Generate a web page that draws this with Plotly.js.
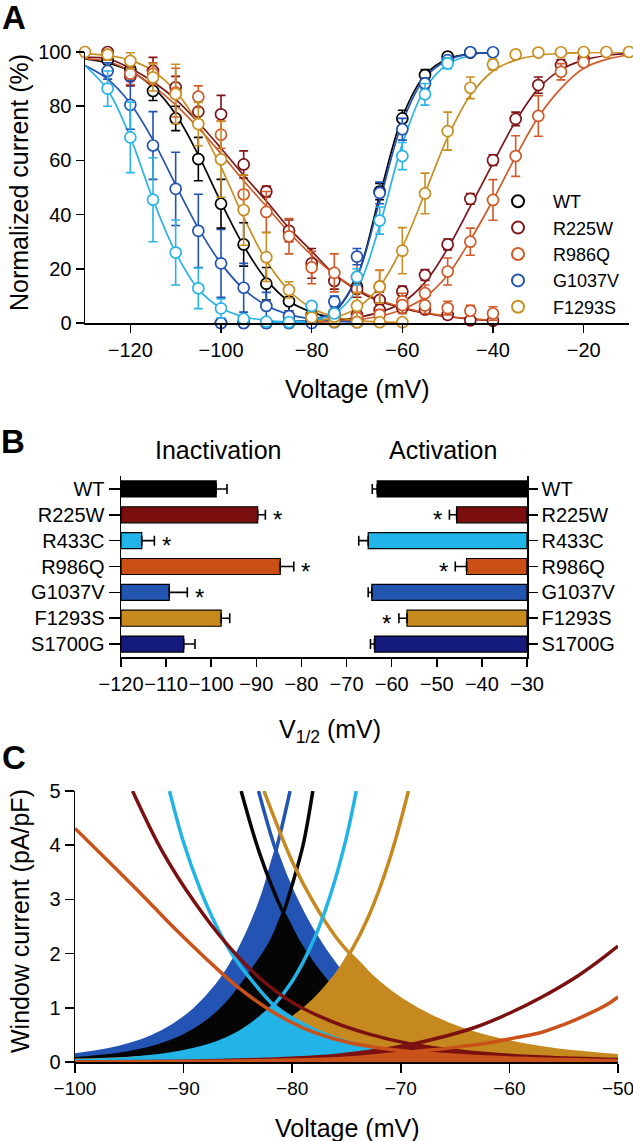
<!DOCTYPE html>
<html><head><meta charset="utf-8">
<script src="https://cdn.plot.ly/plotly-3.0.1.min.js"></script>
<style>html,body{margin:0;padding:0;background:#fff}#chart{width:633px;height:1141px}</style>
</head><body><div id="chart"></div>
<script>
// ================= Panel A data (normalized current, %) =================
const wtInV   = [-125,-120,-115,-110,-105,-100,-95,-90,-85,-80,-75,-70];
const wtInY   = [97,93.5,85.6,75.5,60.5,44,29,14.5,8,3,1.5,1];
const wtInE   = [1.5,2,3.5,4.5,8,9,8,6,3.5,2,1,0.5];
const wtAcV   = [-100,-95,-90,-85,-80,-75,-70,-65,-60,-55,-50,-45];
const wtAcY   = [0,0,0,0,0.5,3.6,13.4,48.5,75.5,91.5,98.3,99.8];
const wtAcE   = [0.3,0.3,0.3,0.3,0.5,1,2,3,3,2,1,0.5];

const r225InV = [-125,-120,-115,-110,-105,-100,-95,-90,-85,-80,-75,-70,-65,-60,-55,-50,-45,-40];
const r225InY = [100,91,93,87,78,77,58.5,48.5,34,22,15.5,12.5,8.5,5.5,5,3,1,0.8];
const r225InE = [1,3.5,5,4,5,7,5,2,4,5.5,3,3,3,2,1.5,1.5,1,1];
const r225AcV = [-80,-75,-70,-65,-60,-55,-50,-45,-40,-35,-30,-25,-20];
const r225AcY = [0.5,1.5,3,4.8,11.6,17.7,29,45.8,60.1,75.3,87.8,95.2,97.5];
const r225AcE = [0.5,1,1.5,2,2,2,2,2,2,2.5,3,2,1];

const r433InV = [-125,-120,-115,-110,-105,-100,-95,-90,-85];
const r433InY = [86.5,68.5,45.5,26,12.8,5.4,1.5,0.5,0.3];
const r433InE = [6.5,13,15.5,12,7.5,3.5,1,0.5,0.3];
const r433AcV = [-80,-75,-70,-65,-60,-55,-50];
const r433AcY = [6.3,3.5,17,37.8,61.6,84.4,95.8];
const r433AcE = [1,1,3,5,5,4,2];

const r986InV = [-125,-120,-115,-110,-105,-100,-95,-90,-85,-80,-75,-70,-65,-60,-55,-50,-45,-40];
const r986InY = [99,92,92,85,83.5,69.5,47.5,41,32,20.5,18.5,17,13.5,8,6.5,5.5,4.5,3.5];
const r986InE = [2,4,4,9,4,5,7,7.5,6.5,6,7,6,6,3,3,2.5,2,2.5];
const r986AcV = [-80,-75,-70,-65,-60,-55,-50,-45,-40,-35,-30,-25,-20];
const r986AcY = [0.5,1,2,3,6.6,11,19,30,45.4,61.6,76.4,92.7,96.2];
const r986AcE = [0.5,1,1.5,2,3,3,5,5,7.5,7.5,7.5,3,1.5];

const g1037InV = [-125,-120,-115,-110,-105,-100,-95,-90,-85,-80,-75,-70];
const g1037InY = [93,80.5,65.5,49.5,34,22,13,6.3,2.5,0.5,0.3,0.3];
const g1037InE = [3,9,12.5,13.5,13.5,12.5,9,5,2,0.5,0.3,0.3];
const g1037AcV = [-100,-95,-90,-85,-80,-75,-70,-65,-60,-55,-50,-45,-40];
const g1037AcY = [0,0,0,0,0,7.9,24.5,48,71.5,88.4,97,99.9,99.9];
const g1037AcE = [0.3,0.3,0.3,0.3,0.3,2,3,4,4,2,1,0.5,0.5];

const f1293InV = [-130,-125,-120,-115,-110,-105,-100,-95,-90,-85,-80,-75,-70,-65,-60];
const f1293InY = [100,99,96.7,90.6,84.5,73.4,60.4,41.7,24.3,12.2,2.5,0.5,0.3,0.3,0.3];
const f1293InE = [0.5,1,3,5,11,8,14,13,9,3,1.5,1,0.5,0.5,0.5];
const f1293AcV = [-80,-75,-70,-65,-60,-55,-50,-45,-40,-35,-30,-25,-20,-15,-10];
const f1293AcY = [2,2.3,6.3,13.4,26.7,47.8,70.8,86.8,95.4,99.1,99.8,99.9,100,100,100];
const f1293AcE = [1,1,5,6,8.5,7.5,7,4,2,1,0.5,0.5,0.3,0.3,0.3];

// fitted curves
const wtFitInV = [-130,-125,-120,-115,-110,-105,-100,-95,-90,-85,-80,-75,-70];
const wtFitInY = [97.5,96,93,87,77,62,44.5,28.5,16,8,4,1.8,0.8];
const wtFitAcV = [-90,-85,-80,-75,-70,-65,-60,-55,-50,-45,-40];
const wtFitAcY = [0.1,0.4,1.2,4.2,17,47,76,91.5,97.5,99.3,99.8];
const r225FitInV = [-130,-125,-120,-115,-110,-105,-100,-95,-90,-85,-80,-75,-70,-65,-60,-55,-50,-45,-40];
const r225FitInY = [98,97.5,94,89,82.5,74,64.5,54.5,45,35,26.5,18,12,8,5.5,3.6,2.3,1.4,0.9];
const r225FitAcV = [-80,-75,-70,-65,-60,-55,-50,-45,-40,-35,-30,-25,-20,-15,-10];
const r225FitAcY = [0.5,1,2,4,7.5,15,27.5,43,59,74.5,86.5,93.5,97,98.7,99.5];
const r986FitInV = [-130,-125,-120,-115,-110,-105,-100,-95,-90,-85,-80,-75,-70,-65,-60,-55,-50,-45,-40];
const r986FitInY = [97.5,96.5,93,87.5,80.5,72,62.5,52.5,43,33.5,25,18,12.5,8.5,5.8,3.8,2.5,1.6,1];
const r986FitAcV = [-80,-75,-70,-65,-60,-55,-50,-45,-40,-35,-30,-25,-20,-15,-10];
const r986FitAcY = [0.3,0.6,1.2,2.5,5,9.5,17.7,30.6,45.4,61.4,76,86.6,94,97.3,98.9];
const g1037FitInV = [-130,-125,-120,-115,-110,-105,-100,-95,-90,-85,-80,-75,-70];
const g1037FitInY = [95,90,81,67.5,51,35,22,12.5,6.5,3.2,1.5,0.7,0.3];
const g1037FitAcV = [-90,-85,-80,-75,-70,-65,-60,-55,-50,-45,-40];
const g1037FitAcY = [0.1,0.4,1.3,4.5,17,45,74,90.5,97,99.3,99.8];
const r433FitInV = [-130,-125,-120,-115,-110,-105,-100,-95,-90,-85,-80];
const r433FitInY = [95,86,68.5,45.5,26,12.5,5.5,2.3,1,0.4,0.2];
const r433FitAcV = [-90,-85,-80,-75,-70,-65,-60,-55,-50,-45];
const r433FitAcY = [0.1,0.3,1,3.5,12.5,36,66,86.5,95.5,98.7];
const f1293FitInV = [-130,-125,-120,-115,-110,-105,-100,-95,-90,-85,-80,-75,-70,-65,-60];
const f1293FitInY = [99.3,98.7,97,93,85.5,73.5,57.5,39,23,12,5.5,2.3,1,0.4,0.2];
const f1293FitAcV = [-85,-80,-75,-70,-65,-60,-55,-50,-45,-40,-35,-30,-25,-20,-15,-10];
const f1293FitAcY = [0.2,0.6,2,5.5,13.5,28,48,68.5,84,93,97,98.8,99.5,99.8,99.9,100];

const aTicksX = [-120,-100,-80,-60,-40,-20];

// ================= Panel B data (V1/2, mV) =================
const bNames    = ['WT','R225W','R433C','R986Q','G1037V','F1293S','S1700G'];
const bColors   = ['#000000','#7b0f10','#20b5e8','#c94f15','#2255b0','#c78a1c','#151b7c'];
const inactMean = [-98.9,-89.7,-115.4,-84.7,-109.3,-97.8,-106.1];
const inactSem  = [2.4,1.7,2.8,3.0,4.0,1.9,2.5];
const inactSig  = [false,true,true,true,true,false,false];
const actMean   = [-63.2,-45.6,-65.2,-43.4,-64.4,-56.6,-63.8];
const actSem    = [1.1,1.6,2.1,2.5,0.8,1.8,0.9];
const actSig    = [false,true,false,true,false,true,false];

// ================= Panel C data (window current, pA/pF) =================
const cWtDescV = [-84.7,-83,-81,-79,-77,-75,-72,-69,-65,-60,-55,-50];
const cWtDescY = [5.0,3.85,2.83,2.08,1.53,1.12,0.71,0.45,0.24,0.11,0.05,0.024];
const cWtAscV  = [-100,-96,-93,-90,-88,-86,-84,-82,-80.8,-80,-79,-78.1];
const cWtAscY  = [0.06,0.14,0.26,0.48,0.72,1.08,1.6,2.2,2.76,3.27,4.0,5.0];
const cWtCross = -80.8;

const cG1037DescV = [-83.1,-81.5,-80,-78,-76,-74,-72,-70,-67,-64,-60,-55,-50];
const cG1037DescY = [5.0,3.9,3.15,2.38,1.79,1.34,1.01,0.76,0.49,0.32,0.18,0.085,0.041];
const cG1037AscV  = [-100,-97,-95,-93,-91,-89,-87,-85,-83,-81.5,-80.2];
const cG1037AscY  = [0.13,0.22,0.32,0.46,0.67,0.97,1.4,2.02,2.92,3.9,5.0];
const cG1037Cross = -81.5;

const cR433DescV = [-91.3,-90,-88.5,-87,-85.5,-83.5,-81.7,-80,-78,-76,-74,-71,-68,-64,-60,-55,-50];
const cR433DescY = [5.0,4.05,3.2,2.52,1.98,1.45,1.05,0.81,0.6,0.44,0.32,0.2,0.125,0.065,0.035,0.015,0.007];
const cR433AscV  = [-100,-96,-93,-90,-87,-85,-83,-81.7,-80,-78,-76.5,-75,-74.1];
const cR433AscY  = [0.025,0.05,0.1,0.19,0.35,0.53,0.81,1.05,1.49,2.26,3.07,4.15,5.0];
const cR433Cross = -81.7;

const cF1293DescV = [-82.6,-80,-78,-76,-74.7,-72,-70,-67,-64,-60,-56,-53,-50];
const cF1293DescY = [5.0,3.7,2.93,2.31,2.0,1.46,1.16,0.82,0.58,0.37,0.23,0.165,0.115];
const cF1293AscV  = [-100,-95,-90,-85,-82,-80,-78,-76,-74.7,-73,-71,-69.3];
const cF1293AscY  = [0.03,0.065,0.15,0.35,0.58,0.81,1.14,1.6,2.0,2.67,3.76,5.0];
const cF1293Cross = -74.7;

const cR225DescV = [-94.7,-92,-89,-86,-83,-80,-76.5,-73,-69,-64,-57,-50];
const cR225DescY = [5.0,3.9,2.95,2.17,1.55,1.1,0.76,0.52,0.33,0.19,0.09,0.045];
const cR225AscV  = [-100,-90,-85,-80,-76,-72,-69,-66,-63,-60,-57,-54,-52,-50];
const cR225AscY  = [0.0,0.015,0.035,0.07,0.12,0.22,0.33,0.47,0.65,0.9,1.2,1.55,1.83,2.14];
const cR225Cross = -69;

const cR986DescV = [-100,-97,-94,-91,-88,-85,-82,-79,-76,-73,-69,-65,-60,-55,-50];
const cR986DescY = [4.31,3.72,3.12,2.5,1.92,1.38,0.95,0.63,0.42,0.29,0.19,0.125,0.075,0.045,0.025];
const cR986AscV  = [-100,-90,-80,-75,-72,-68.8,-65,-62,-59.6,-57,-55,-53,-51,-50];
const cR986AscY  = [0.0,0.008,0.035,0.07,0.12,0.19,0.27,0.35,0.44,0.55,0.69,0.86,1.06,1.2];
const cR986Cross = -68.8;

// ================= colours =================
const cA = {WT:'#000000', R225W:'#7e1518', R433C:'#2ab3e6', R986Q:'#d05a28', G1037V:'#2152b4', F1293S:'#c98e22'};
const cC = {WT:'#050505', R225W:'#7a1010', R433C:'#22b4e6', R986Q:'#c9521b', G1037V:'#2354b3', F1293S:'#c6891f'};

// ================= build traces =================
const traces = [];
const aSeries = [
  {n:'WT',     c:cA.WT,     fi:[wtFitInV,wtFitInY],     fa:[wtFitAcV,wtFitAcY],     d:[wtInV,wtInY,wtInE,wtAcV,wtAcY,wtAcE], leg:true},
  {n:'R225W',  c:cA.R225W,  fi:[r225FitInV,r225FitInY], fa:[r225FitAcV,r225FitAcY], d:[r225InV,r225InY,r225InE,r225AcV,r225AcY,r225AcE], leg:true},
  {n:'R986Q',  c:cA.R986Q,  fi:[r986FitInV,r986FitInY], fa:[r986FitAcV,r986FitAcY], d:[r986InV,r986InY,r986InE,r986AcV,r986AcY,r986AcE], leg:true},
  {n:'G1037V', c:cA.G1037V, fi:[g1037FitInV,g1037FitInY], fa:[g1037FitAcV,g1037FitAcY], d:[g1037InV,g1037InY,g1037InE,g1037AcV,g1037AcY,g1037AcE], leg:true},
  {n:'F1293S', c:cA.F1293S, fi:[f1293FitInV,f1293FitInY], fa:[f1293FitAcV,f1293FitAcY], d:[f1293InV,f1293InY,f1293InE,f1293AcV,f1293AcY,f1293AcE], leg:true},
  {n:'R433C',  c:cA.R433C,  fi:[r433FitInV,r433FitInY], fa:[r433FitAcV,r433FitAcY], d:[r433InV,r433InY,r433InE,r433AcV,r433AcY,r433AcE], leg:false}
];
aSeries.forEach(s => {
  [s.fi, s.fa].forEach(f => traces.push({
    type:'scatter', mode:'lines', x:f[0], y:f[1], xaxis:'x', yaxis:'y',
    line:{color:s.c, width:1.7, shape:'spline', smoothing:1}, showlegend:false, hoverinfo:'skip'
  }));
});
aSeries.forEach(s => {
  const d = s.d;
  traces.push({
    type:'scatter', mode:'markers', name:s.n, showlegend:s.leg,
    x:d[0].concat(d[3]), y:d[1].concat(d[4]), xaxis:'x', yaxis:'y', cliponaxis:false,
    marker:{symbol:'circle', size:11, color:'white', line:{color:s.c, width:1.7}},
    error_y:{type:'data', array:d[2].concat(d[5]), color:s.c, thickness:1.6, width:4.5}
  });
});

// Panel B bars
traces.push({
  type:'bar', orientation:'h', y:bNames, x:inactMean.map(v => v + 120), base:-120,
  xaxis:'x2', yaxis:'y2', marker:{color:bColors, line:{color:'black', width:1.2}},
  showlegend:false, hoverinfo:'skip'
});
traces.push({
  type:'bar', orientation:'h', y:bNames, x:actMean.map(v => v + 30), base:-30,
  xaxis:'x2', yaxis:'y3', marker:{color:bColors, line:{color:'black', width:1.2}},
  showlegend:false, hoverinfo:'skip'
});
traces.push({
  type:'scatter', mode:'markers', y:bNames, x:inactMean, xaxis:'x2', yaxis:'y2',
  marker:{opacity:0, size:1}, showlegend:false, hoverinfo:'skip', cliponaxis:false,
  error_x:{type:'data', symmetric:false, array:inactSem, arrayminus:inactSem.map(()=>0), color:'black', thickness:1.6, width:5}
});
traces.push({
  type:'scatter', mode:'markers', y:bNames, x:actMean, xaxis:'x2', yaxis:'y3',
  marker:{opacity:0, size:1}, showlegend:false, hoverinfo:'skip', cliponaxis:false,
  error_x:{type:'data', symmetric:false, array:actSem.map(()=>0), arrayminus:actSem, color:'black', thickness:1.6, width:5}
});

// Panel C: window area = under the rising curve up to the crossing, then under the falling curve
function addWindow(ascV, ascY, descV, descY, cross, color) {
  const ai = ascV.map((v,i)=>i).filter(i => ascV[i] <= cross);
  const di = descV.map((v,i)=>i).filter(i => descV[i] > cross);
  const fx = ai.map(i => ascV[i]).concat(di.map(i => descV[i]));
  const fy = ai.map(i => ascY[i]).concat(di.map(i => descY[i]));
  traces.push({
    type:'scatter', mode:'lines', x:fx, y:fy, xaxis:'x3', yaxis:'y4',
    line:{width:0.5, shape:'spline', smoothing:0.6, color:color}, fill:'tozeroy', fillcolor:color,
    showlegend:false, hoverinfo:'skip'
  });
  [[ascV,ascY],[descV,descY]].forEach(p => traces.push({
    type:'scatter', mode:'lines', x:p[0], y:p[1], xaxis:'x3', yaxis:'y4',
    line:{width:3.5, shape:'spline', smoothing:1, color:color}, showlegend:false, hoverinfo:'skip'
  }));
}
addWindow(cG1037AscV, cG1037AscY, cG1037DescV, cG1037DescY, cG1037Cross, cC.G1037V);
addWindow(cWtAscV, cWtAscY, cWtDescV, cWtDescY, cWtCross, cC.WT);
addWindow(cF1293AscV, cF1293AscY, cF1293DescV, cF1293DescY, cF1293Cross, cC.F1293S);
addWindow(cR433AscV, cR433AscY, cR433DescV, cR433DescY, cR433Cross, cC.R433C);
addWindow(cR225AscV, cR225AscY, cR225DescV, cR225DescY, cR225Cross, cC.R225W);
addWindow(cR986AscV, cR986AscY, cR986DescV, cR986DescY, cR986Cross, cC.R986Q);

// ================= layout =================
const W = 633, H = 1141;
const px = v => v / W, py = v => 1 - v / H;
const ax = {showline:true, linecolor:'black', linewidth:1.5, ticks:'outside', ticklen:8, tickwidth:1.5,
            tickcolor:'black', showgrid:false, zeroline:false, tickfont:{size:20, color:'black'},
            fixedrange:true, ticklabeloverflow:'allow', automargin:false};

const ann = [];
const txt = (t, x, y, size, extra) => ann.push(Object.assign({text:t, x:px(x), y:py(y), xref:'paper', yref:'paper',
  showarrow:false, xanchor:'center', yanchor:'middle', font:{size:size, color:'black'}}, extra || {}));
txt('<b>A</b>', 14, 18, 33);
txt('<b>B</b>', 13, 442, 33);
txt('<b>C</b>', 14, 757, 33);
txt('Normalized current (%)', 19, 183, 25, {textangle:-90});
txt('Voltage (mV)', 357, 389, 25);
txt('Inactivation', 218, 450, 25);
txt('Activation', 443, 450, 25);
txt('V<sub>1/2</sub> (mV)', 330, 731, 25);
txt('Window current (pA/pF)', 20, 921, 25, {textangle:-90});
txt('Voltage (mV)', 347, 1128, 25);

bNames.forEach((n, i) => {
  if (inactSig[i]) ann.push({text:'*', x:inactMean[i] + inactSem[i], y:n, xref:'x2', yref:'y2', showarrow:false,
    xshift:12, yshift:-5, font:{size:24, color:'black'}});
  if (actSig[i]) ann.push({text:'*', x:actMean[i] - actSem[i], y:n, xref:'x2', yref:'y3', showarrow:false,
    xshift:-12, yshift:-5, font:{size:24, color:'black'}});
});

const layout = {
  width:W, height:H, margin:{l:0, r:0, t:0, b:0},
  paper_bgcolor:'white', plot_bgcolor:'rgba(0,0,0,0)',
  font:{family:'Liberation Sans, Arial, sans-serif', size:20, color:'black'},
  barmode:'overlay', bargap:0.38,
  showlegend:true,
  legend:{x:px(483), y:py(183), xanchor:'left', yanchor:'top', bgcolor:'rgba(0,0,0,0)',
          font:{size:18, color:'black'}, itemwidth:60, traceorder:'normal', itemsizing:'constant'},
  xaxis: Object.assign({}, ax, {domain:[px(85), px(629)], range:[-130,-10], tickvals:aTicksX, anchor:'y'}),
  yaxis: Object.assign({}, ax, {domain:[py(323), py(52)], range:[0,100], tick0:0, dtick:20, anchor:'x'}),
  xaxis2: Object.assign({}, ax, {domain:[px(121), px(527)], range:[-120,-30], tick0:-120, dtick:10, anchor:'y2', tickangle:0}),
  yaxis2: Object.assign({}, ax, {domain:[py(657), py(476)], type:'category', categoryorder:'array', categoryarray:bNames,
          range:[6.5,-0.5], anchor:'x2', ticklen:11}),
  yaxis3: Object.assign({}, ax, {type:'category', categoryorder:'array', categoryarray:bNames,
          range:[6.5,-0.5], anchor:'x2', overlaying:'y2', side:'right', ticklen:9}),
  xaxis3: Object.assign({}, ax, {domain:[px(75), px(618)], range:[-100,-50], tick0:-100, dtick:10, anchor:'y4', ticklen:9,
          tickfont:{size:19, color:'black'}}),
  yaxis4: Object.assign({}, ax, {domain:[py(1062), py(791)], range:[0,5], tick0:0, dtick:1, anchor:'x3', ticklen:9}),
  annotations: ann
};

Plotly.newPlot('chart', traces, layout, {displayModeBar:false, staticPlot:true});
</script>
</body></html>
